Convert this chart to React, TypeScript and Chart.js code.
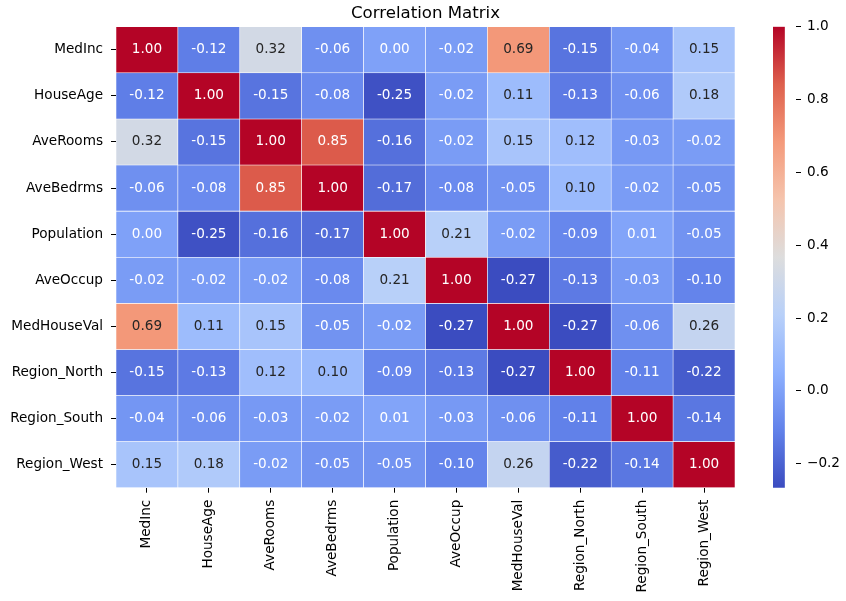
import React, { useEffect, useRef } from "react";
import { Chart, registerables } from "chart.js";

Chart.register(...registerables);
Chart.defaults.font.family = "'DejaVu Sans', sans-serif";

// ---- data ----
const variables = [
  "MedInc",
  "HouseAge",
  "AveRooms",
  "AveBedrms",
  "Population",
  "AveOccup",
  "MedHouseVal",
  "Region_North",
  "Region_South",
  "Region_West",
];

const rowMedInc = [1.0, -0.12, 0.32, -0.06, 0.0, -0.02, 0.69, -0.15, -0.04, 0.15];
const rowHouseAge = [-0.12, 1.0, -0.15, -0.08, -0.25, -0.02, 0.11, -0.13, -0.06, 0.18];
const rowAveRooms = [0.32, -0.15, 1.0, 0.85, -0.16, -0.02, 0.15, 0.12, -0.03, -0.02];
const rowAveBedrms = [-0.06, -0.08, 0.85, 1.0, -0.17, -0.08, -0.05, 0.1, -0.02, -0.05];
const rowPopulation = [0.0, -0.25, -0.16, -0.17, 1.0, 0.21, -0.02, -0.09, 0.01, -0.05];
const rowAveOccup = [-0.02, -0.02, -0.02, -0.08, 0.21, 1.0, -0.27, -0.13, -0.03, -0.1];
const rowMedHouseVal = [0.69, 0.11, 0.15, -0.05, -0.02, -0.27, 1.0, -0.27, -0.06, 0.26];
const rowRegionNorth = [-0.15, -0.13, 0.12, 0.1, -0.09, -0.13, -0.27, 1.0, -0.11, -0.22];
const rowRegionSouth = [-0.04, -0.06, -0.03, -0.02, 0.01, -0.03, -0.06, -0.11, 1.0, -0.14];
const rowRegionWest = [0.15, 0.18, -0.02, -0.05, -0.05, -0.1, 0.26, -0.22, -0.14, 1.0];

const matrix = [
  rowMedInc,
  rowHouseAge,
  rowAveRooms,
  rowAveBedrms,
  rowPopulation,
  rowAveOccup,
  rowMedHouseVal,
  rowRegionNorth,
  rowRegionSouth,
  rowRegionWest,
];

const colorbarTicks = [-0.2, 0.0, 0.2, 0.4, 0.6, 0.8, 1.0];
const vmin = -0.266;
const vmax = 1.0;

// ---- colormap (coolwarm) ----
const COOLWARM: [number, [number, number, number]][] = [
  [0.0, [59, 76, 192]],
  [0.125, [98, 130, 234]],
  [0.25, [141, 176, 254]],
  [0.375, [184, 208, 249]],
  [0.5, [221, 221, 221]],
  [0.625, [245, 196, 173]],
  [0.75, [244, 154, 123]],
  [0.875, [222, 96, 77]],
  [1.0, [180, 4, 38]],
];

function cmap(t: number): [number, number, number] {
  const x = Math.max(0, Math.min(1, t));
  for (let i = 0; i < COOLWARM.length - 1; i++) {
    const [t0, c0] = COOLWARM[i];
    const [t1, c1] = COOLWARM[i + 1];
    if (x <= t1) {
      const f = (x - t0) / (t1 - t0);
      return [
        c0[0] + (c1[0] - c0[0]) * f,
        c0[1] + (c1[1] - c0[1]) * f,
        c0[2] + (c1[2] - c0[2]) * f,
      ];
    }
  }
  return COOLWARM[COOLWARM.length - 1][1];
}

function rgbOf(v: number): [number, number, number] {
  return cmap((v - vmin) / (vmax - vmin));
}

function cssRgb(c: [number, number, number]) {
  return `rgb(${Math.round(c[0])},${Math.round(c[1])},${Math.round(c[2])})`;
}

function relLum(c: [number, number, number]) {
  const f = (u: number) => {
    const s = u / 255;
    return s <= 0.03928 ? s / 12.92 : Math.pow((s + 0.055) / 1.055, 2.4);
  };
  return 0.2126 * f(c[0]) + 0.7152 * f(c[1]) + 0.0722 * f(c[2]);
}

function textColorFor(v: number) {
  return relLum(rgbOf(v)) > 0.408 ? "#262626" : "#ffffff";
}

const FONT_PX = 13.6;

const annotatePlugin = {
  id: "cellAnnotations",
  afterDatasetsDraw(chart: any) {
    const ctx = chart.ctx;
    ctx.save();
    ctx.font = `${FONT_PX}px 'DejaVu Sans', sans-serif`;
    ctx.textAlign = "center";
    ctx.textBaseline = "middle";
    chart.data.datasets.forEach((_ds: any, i: number) => {
      const meta = chart.getDatasetMeta(i);
      meta.data.forEach((el: any, j: number) => {
        const v = matrix[i][j];
        const p = el.getCenterPoint();
        ctx.fillStyle = textColorFor(v);
        ctx.fillText(v.toFixed(2), p.x, p.y);
      });
    });
    ctx.restore();
  },
};

const tickFont = { size: FONT_PX };

export default function App() {
  const mainRef = useRef<HTMLCanvasElement | null>(null);
  const cbRef = useRef<HTMLCanvasElement | null>(null);

  useEffect(() => {
    document.body.style.margin = "0";
    if (!mainRef.current || !cbRef.current) return;

    const datasets = matrix.map((row, i) => ({
      label: variables[i],
      data: row.map(() => 1),
      backgroundColor: row.map((v) => cssRgb(rgbOf(v))),
      borderColor: "#ffffff",
      borderWidth: 0.6,
      borderSkipped: false,
      barPercentage: 1,
      categoryPercentage: 1,
      stack: "cells",
    }));

    const main = new Chart(mainRef.current, {
      type: "bar",
      data: { labels: variables, datasets: datasets as any },
      plugins: [annotatePlugin],
      options: {
        animation: false,
        responsive: false,
        devicePixelRatio: 1,
        layout: { padding: { left: 0, right: 25, top: 0, bottom: 0 } },
        plugins: {
          legend: { display: false },
          tooltip: { enabled: false },
          title: {
            display: true,
            text: "Correlation Matrix",
            color: "#000000",
            font: { size: 16.6, weight: "normal" },
            padding: { top: 3.5, bottom: 3.3 },
            fullSize: false,
          },
        },
        scales: {
          x: {
            type: "category",
            stacked: true,
            offset: true,
            border: { display: false },
            grid: {
              display: true,
              offset: false,
              drawOnChartArea: false,
              drawTicks: true,
              tickLength: 5,
              tickColor: "#000000",
              lineWidth: 1,
            },
            ticks: {
              autoSkip: false,
              maxRotation: 90,
              minRotation: 90,
              padding: 7,
              color: "#000000",
              font: tickFont,
            },
            afterFit: (s: any) => {
              s.height = 113.3;
            },
          },
          y: {
            type: "linear",
            stacked: true,
            min: 0,
            max: variables.length,
            reverse: true,
            border: { display: false },
            grid: {
              display: true,
              drawOnChartArea: false,
              drawTicks: true,
              tickLength: 5,
              tickColor: "#000000",
              lineWidth: 1,
            },
            afterBuildTicks: (s: any) => {
              s.ticks = variables.map((_v, i) => ({ value: i + 0.5 }));
            },
            ticks: {
              padding: 8,
              color: "#000000",
              font: tickFont,
              callback: (_value: any, index: number) => variables[index],
            },
            afterFit: (s: any) => {
              s.width = 116;
            },
          },
        },
      } as any,
    });

    const cb = new Chart(cbRef.current, {
      type: "bar",
      data: {
        labels: ["colorbar"],
        datasets: [
          {
            data: [[vmin, vmax]] as any,
            backgroundColor: (c: any) => {
              const area = c.chart.chartArea;
              if (!area) return "rgba(0,0,0,0)";
              const g = c.chart.ctx.createLinearGradient(0, area.bottom, 0, area.top);
              COOLWARM.forEach(([t, col]) => g.addColorStop(t, cssRgb(col)));
              return g;
            },
            borderWidth: 0,
            barPercentage: 1,
            categoryPercentage: 1,
          },
        ],
      },
      options: {
        animation: false,
        responsive: false,
        devicePixelRatio: 1,
        layout: { padding: { left: 13, right: 0, top: 26.7, bottom: 113.3 } },
        plugins: { legend: { display: false }, tooltip: { enabled: false } },
        scales: {
          x: { display: false, offset: false },
          y: {
            position: "right",
            min: vmin,
            max: vmax,
            border: { display: false },
            grid: {
              display: true,
              drawOnChartArea: false,
              drawTicks: true,
              tickLength: 5,
              tickColor: "#000000",
              lineWidth: 1,
            },
            afterBuildTicks: (s: any) => {
              s.ticks = colorbarTicks.map((v) => ({ value: v }));
            },
            ticks: {
              padding: 6,
              color: "#000000",
              font: tickFont,
              callback: (value: any) => {
                const n = Number(value);
                const t = Math.abs(n).toFixed(1);
                return n < -1e-9 ? "\u2212" + t : t;
              },
            },
            afterFit: (s: any) => {
              s.width = 50;
            },
          },
        },
      } as any,
    });

    return () => {
      main.destroy();
      cb.destroy();
    };
  }, []);

  return (
    <div style={{ position: "relative", width: 846, height: 601, background: "#ffffff" }}>
      <canvas
        ref={mainRef}
        width={760}
        height={601}
        style={{ position: "absolute", left: 0, top: 0, width: 760, height: 601 }}
      />
      <canvas
        ref={cbRef}
        width={86}
        height={601}
        style={{ position: "absolute", left: 760, top: 0, width: 86, height: 601 }}
      />
    </div>
  );
}
